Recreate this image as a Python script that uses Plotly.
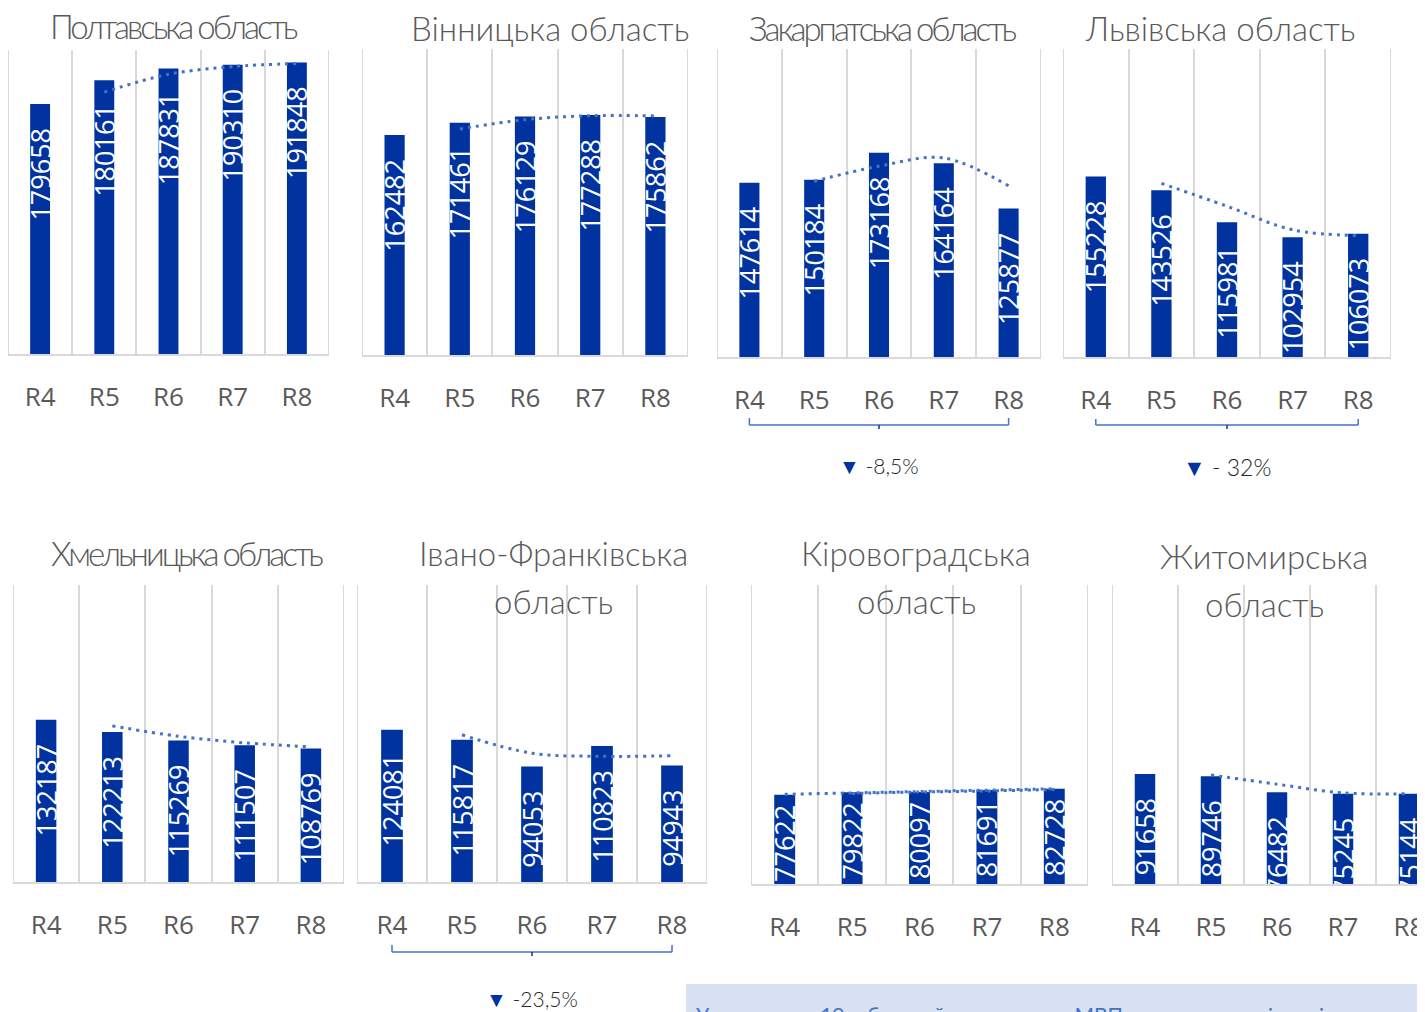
import numpy as np
import plotly.graph_objects as go

# The page body has an 8px margin; the figure is sized so it ends at the window edge.
OFF = 8
W, H = 1425 - OFF, 1012 - OFF

categories = ["R4", "R5", "R6", "R7", "R8"]

poltava = [179658, 180161, 187831, 190310, 191848]
poltava_bar_heights = [164500, 180161, 187831, 190310, 191848]
vinnytsia = [162482, 171461, 176129, 177288, 175862]
zakarpattia = [147614, 150184, 173168, 164164, 125877]
lviv = [155228, 143526, 115981, 102954, 106073]
khmelnytskyi = [132187, 122213, 115269, 111507, 108769]
ivano_frankivsk = [124081, 115817, 94053, 110823, 94943]
kirovohrad = [77622, 79822, 80097, 81691, 82728]
zhytomyr = [91658, 89746, 76482, 75245, 75144]

titles = [
    ["Полтавська область"],
    ["Вінницька область"],
    ["Закарпатська область"],
    ["Львівська область"],
    ["Хмельницька область"],
    ["Івано-Франківська", "область"],
    ["Кіровоградська", "область"],
    ["Житомирська", "область"],
]
condensed_title = [True, False, True, False, True, False, False, False]

change_labels = ["-8,5%", "- 32%", "-23,5%"]

note_text = "У  восьми  з  19  областей,  охоплених  МВП,  зареєстровані  дані  про"

BAR = "#0033A0"
TREND = "#4472C4"
GRID = "#D9D9D9"
GREY = "#595959"


def px_x(p):
    return (p - OFF) / W


def px_y(p):
    return 1 - (p - OFF) / H


panels = [
    dict(labels=poltava, bars=poltava_bar_heights, x0=8, x1=329, yt=50, yb=354, ymax=200000, pad=3),
    dict(labels=vinnytsia, bars=vinnytsia, x0=362, x1=688, yt=49, yb=355, ymax=226000, pad=3),
    dict(labels=zakarpattia, bars=zakarpattia, x0=717, x1=1041, yt=49, yb=357, ymax=261000, pad=3),
    dict(labels=lviv, bars=lviv, x0=1063, x1=1391, yt=49, yb=357, ymax=265000, pad=3),
    dict(labels=khmelnytskyi, bars=khmelnytskyi, x0=13, x1=344, yt=585, yb=882, ymax=242000, pad=3),
    dict(labels=ivano_frankivsk, bars=ivano_frankivsk, x0=357, x1=707, yt=585, yb=882, ymax=242000, pad=3),
    dict(labels=kirovohrad, bars=kirovohrad, x0=751, x1=1088, yt=585, yb=884, ymax=260000, pad=1),
    dict(labels=zhytomyr, bars=zhytomyr, x0=1112, x1=1442, yt=585, yb=884, ymax=249000, pad=3),
]

title_pos = [
    [(174, 26)], [(550, 28)], [(883, 28)], [(1220, 28)],
    [(187, 553)], [(553, 553), (553, 601)], [(916, 553), (916, 601)],
    [(1264, 556), (1264, 604)],
]

fig = go.Figure()
annotations = []
shapes = []

for i, p in enumerate(panels):
    n = i + 1
    xa = "x" if n == 1 else f"x{n}"
    ya = "y" if n == 1 else f"y{n}"
    bars = p["bars"]
    padtxt = "\u00a0" * p["pad"]
    fig.add_trace(go.Bar(
        x=categories, y=bars, xaxis=xa, yaxis=ya,
        marker=dict(color=BAR, line=dict(width=0)),
        width=0.31,
        text=[f"{v}{padtxt}" for v in p["labels"]],
        textposition="inside", insidetextanchor="end",
        textangle=-90, constraintext="none",
        textfont=dict(family="Open Sans", size=27, color="white"),
        cliponaxis=True, hoverinfo="skip",
    ))
    # 2-period moving average trendline
    ma = [(bars[k - 1] + bars[k]) / 2 for k in range(1, len(bars))]
    fig.add_trace(go.Scatter(
        x=categories[1:], y=ma, xaxis=xa, yaxis=ya, mode="lines",
        line=dict(color=TREND, width=3, dash="3px,5px", shape="spline"),
        hoverinfo="skip",
    ))
    if i == 6:
        xs = np.arange(len(bars))
        k, b = np.polyfit(xs, bars, 1)
        fig.add_trace(go.Scatter(
            x=categories, y=list(k * xs + b), xaxis=xa, yaxis=ya, mode="lines",
            line=dict(color=TREND, width=3, dash="3px,5px"),
            hoverinfo="skip",
        ))

    x1 = min(p["x1"], 1425)
    ncat = len(categories)
    right = -0.5 + ncat * (x1 - p["x0"]) / (p["x1"] - p["x0"])
    xkey = "xaxis" if n == 1 else f"xaxis{n}"
    ykey = "yaxis" if n == 1 else f"yaxis{n}"
    fig.update_layout(**{
        xkey: dict(
            domain=[px_x(p["x0"]), px_x(x1)], anchor=ya, type="category",
            range=[-0.5, right], tickson="boundaries",
            showgrid=True, gridcolor=GRID, gridwidth=2,
            showline=True, linecolor=GRID, linewidth=2,
            ticks="outside", ticklen=39, tickcolor="rgba(0,0,0,0)",
            ticklabelstandoff=19,
            tickfont=dict(family="Open Sans", size=26, color=GREY),
            zeroline=False, fixedrange=True,
        ),
        ykey: dict(
            domain=[px_y(p["yb"]), px_y(p["yt"])], anchor=xa,
            range=[0, p["ymax"]], visible=False, showgrid=False,
            zeroline=False, fixedrange=True,
        ),
    })
    # gridlines on the outer edges of each panel
    edges = [-0.5] + ([ncat - 0.5] if x1 == p["x1"] else [])
    for e in edges:
        shapes.append(dict(type="line", xref=xa, yref=f"{ya} domain", x0=e, x1=e,
                           y0=0, y1=1, line=dict(color=GRID, width=2), layer="below"))
    for line, (cx, cy) in zip(titles[i], title_pos[i]):
        txt = f"<span style='letter-spacing:-3px'>{line}</span>" if condensed_title[i] else line
        annotations.append(dict(
            text=txt, x=px_x(cx), y=px_y(cy), xref="paper", yref="paper",
            xanchor="center", yanchor="middle", showarrow=False,
            font=dict(family="Lato", size=33, color=GREY, weight=300),
        ))

# brackets under selected panels: (axis number, y top px, y bottom px, label y px, size)
brackets = [(3, 418, 425, 465, 21), (4, 419, 425, 467, 23), (6, 945, 952, 998, 21)]
for (n, yt, yb, ly, fs), lab in zip(brackets, change_labels):
    xa = f"x{n}"
    for cat in (categories[0], categories[-1]):
        shapes.append(dict(type="line", xref=xa, yref="paper", x0=cat, x1=cat,
                           y0=px_y(yt), y1=px_y(yb), line=dict(color=TREND, width=1.5)))
    shapes.append(dict(type="line", xref=xa, yref="paper", x0=categories[0], x1=categories[-1],
                       y0=px_y(yb), y1=px_y(yb), line=dict(color=TREND, width=1.5)))
    shapes.append(dict(type="line", xref=xa, yref="paper", x0=categories[2], x1=categories[2],
                       y0=px_y(yb), y1=px_y(yb + 4), line=dict(color=BAR, width=1.5)))
    annotations.append(dict(
        text=f"<span style='color:{BAR}'>▼</span> {lab}", xref=xa, yref="paper",
        x=categories[2], y=px_y(ly), xanchor="center", yanchor="middle", showarrow=False,
        font=dict(family="Lato", size=fs, color="#262626", weight=300),
    ))

# note box at the bottom right
shapes.append(dict(type="rect", xref="paper", yref="paper", x0=px_x(686), x1=1.0,
                   y0=px_y(1030), y1=px_y(984), fillcolor="#D9E2F3", line=dict(width=0),
                   layer="below"))
annotations.append(dict(
    text=note_text, xref="paper", yref="paper", x=px_x(694), y=px_y(1000),
    xanchor="left", yanchor="top", showarrow=False,
    font=dict(family="Lato", size=21, color=TREND),
))

fig.update_layout(
    width=W, height=H, margin=dict(l=0, r=0, t=0, b=0),
    paper_bgcolor="white", plot_bgcolor="white", showlegend=False,
    annotations=annotations, shapes=shapes,
)

fig.write_html("out.html")
